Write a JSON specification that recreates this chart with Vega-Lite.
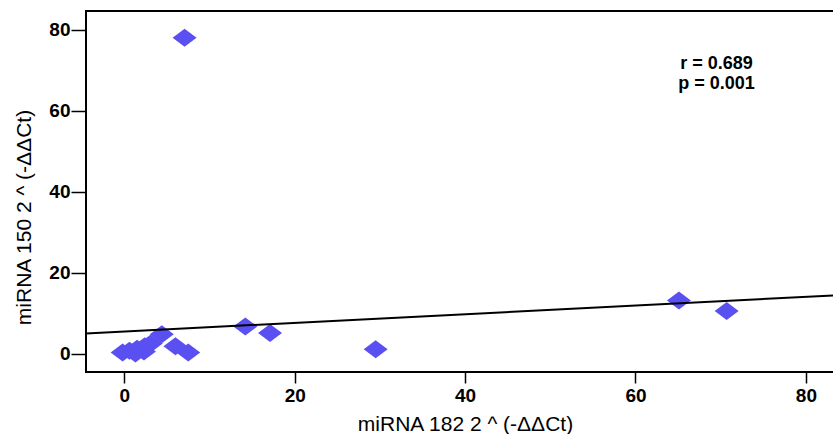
{
  "$schema": "https://vega.github.io/schema/vega-lite/v6.json",
  "autosize": "none",
  "padding": {"left": 86, "top": 11, "right": 0, "bottom": 62},
  "width": 748,
  "height": 361,
  "background": "white",
  "config": {
    "view": {"stroke": "black", "strokeWidth": 2},
    "font": "Liberation Sans"
  },
  "datasets": {
    "pts": [
      {"x": -0.2, "y": 0.4},
      {"x": 0.6, "y": 0.8},
      {"x": 1.3, "y": 0.1},
      {"x": 1.5, "y": 1.3},
      {"x": 2.3, "y": 0.6},
      {"x": 2.4, "y": 1.9},
      {"x": 3.1, "y": 2.6},
      {"x": 4.4, "y": 4.9},
      {"x": 6.0, "y": 1.9},
      {"x": 7.5, "y": 0.4},
      {"x": 7.07, "y": 78.0},
      {"x": 14.2, "y": 6.8},
      {"x": 17.1, "y": 5.2},
      {"x": 29.5, "y": 1.2},
      {"x": 65.1, "y": 13.2},
      {"x": 70.7, "y": 10.6}
    ],
    "fit": [
      {"x": -4.5, "y": 5.05},
      {"x": 83.3, "y": 14.45}
    ]
  },
  "layer": [
    {
      "data": {"name": "pts"},
      "mark": {
        "type": "point",
        "shape": "M-1,0L0,-0.75L1,0L0,0.75Z",
        "filled": true,
        "size": 576,
        "color": "#5a50f2",
        "opacity": 1,
        "strokeWidth": 0
      },
      "encoding": {
        "x": {
          "field": "x",
          "type": "quantitative",
          "scale": {"domain": [-4.5, 83.3], "nice": false, "zero": false},
          "axis": {
            "values": [0, 20, 40, 60, 80],
            "domain": false,
            "grid": false,
            "tickSize": 11,
            "tickWidth": 1.5,
            "tickColor": "black",
            "labelFont": "Liberation Sans",
            "labelFontSize": 19,
            "labelFontWeight": "bold",
            "labelColor": "black",
            "labelPadding": 3,
            "title": "miRNA 182 2 ^ (-ΔΔCt)",
            "titleFont": "Liberation Sans",
            "titleFontSize": 21,
            "titleFontWeight": "normal",
            "titleColor": "black",
            "titleAlign": "center",
            "titleBaseline": "alphabetic",
            "titleX": 379,
            "titleY": 58
          }
        },
        "y": {
          "field": "y",
          "type": "quantitative",
          "scale": {"domain": [-4.44, 84.6], "nice": false, "zero": false},
          "axis": {
            "values": [0, 20, 40, 60, 80],
            "domain": false,
            "grid": false,
            "tickSize": 15,
            "tickWidth": 1.5,
            "tickColor": "black",
            "labelFont": "Liberation Sans",
            "labelFontSize": 19,
            "labelFontWeight": "bold",
            "labelColor": "black",
            "labelPadding": 1,
            "title": "miRNA 150 2 ^ (-ΔΔCt)",
            "titleFont": "Liberation Sans",
            "titleFontSize": 21,
            "titleColor": "black",
            "titleFontWeight": "normal",
            "titleAngle": 270,
            "titleAlign": "center",
            "titleBaseline": "alphabetic",
            "titleX": -56,
            "titleY": 206
          }
        }
      }
    },
    {
      "data": {"name": "fit"},
      "mark": {"type": "line", "color": "black", "strokeWidth": 2},
      "encoding": {
        "x": {"field": "x", "type": "quantitative"},
        "y": {"field": "y", "type": "quantitative"}
      }
    },
    {
      "data": {"values": [{}]},
      "mark": {
        "type": "text",
        "font": "Liberation Sans",
        "fontSize": 18,
        "fontWeight": "bold",
        "color": "black",
        "align": "center",
        "baseline": "alphabetic",
        "lineHeight": 20
      },
      "encoding": {
        "x": {"datum": 69.5},
        "y": {"datum": 70.4},
        "text": {"value": ["r = 0.689", "p = 0.001"]}
      }
    }
  ]
}
